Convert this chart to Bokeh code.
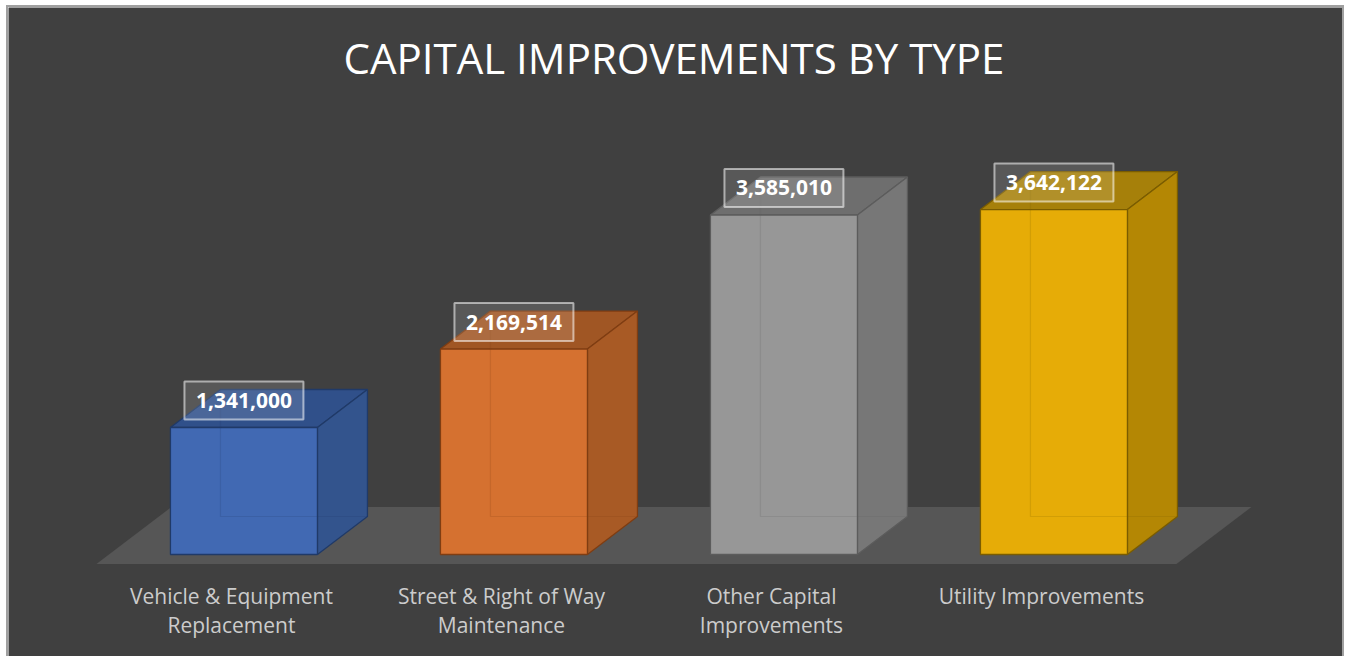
from bokeh.plotting import figure
from bokeh.models import Range1d
from bokeh.embed import file_html
from bokeh.resources import INLINE
from bokeh.core.properties import value

# ---------------- data ----------------
title_text = "CAPITAL IMPROVEMENTS BY TYPE"
categories = ["Vehicle & Equipment\nReplacement",
              "Street & Right of Way\nMaintenance",
              "Other Capital\nImprovements",
              "Utility Improvements"]
amounts = [1341000, 2169514, 3585010, 3642122]
amount_labels = ["1,341,000", "2,169,514", "3,585,010", "3,642,122"]

front_colors = ["#4169b3", "#d57130", "#979797", "#e6ac07"]
side_colors = ["#33548d", "#a85a25", "#777777", "#b48704"]
top_colors = ["#30508a", "#a05624", "#6e6e6e", "#a6800a"]
edge_colors = ["#203a68", "#7f3d12", "#5c5c5c", "#7a5c00"]

# ---------------- layout ----------------
FIG_LEFT, FIG_TOP = 8, 7        # page position of the figure
W, H = 1334, 649
PX_PER_CAT = 270.0
PX_PER_UNIT = 94.7e-6           # pixels per unit of value
BASE_PX = 554 - FIG_TOP         # y of zero value, relative to figure top
X0 = -0.872 - (FIG_LEFT - 8) / PX_PER_CAT

DX = 50 / PX_PER_CAT            # depth offset (x, category units)
DY = 38 / PX_PER_UNIT           # depth offset (y, value units)
HW = 147 / PX_PER_CAT / 2       # half bar width

y_start = -(H - BASE_PX) / PX_PER_UNIT
y_end = BASE_PX / PX_PER_UNIT

p = figure(width=W, height=H,
           x_range=Range1d(X0, X0 + W / PX_PER_CAT),
           y_range=Range1d(y_start, y_end),
           x_axis_type=None, y_axis_type=None,
           toolbar_location=None, output_backend="svg",
           min_border=0,
           background_fill_color="#404040", border_fill_color="#404040")
p.outline_line_color = None
p.grid.visible = False
p.styles = {"margin-left": f"{FIG_LEFT}px", "margin-top": f"{FIG_TOP}px",
            "box-shadow": "0 0 0 2px #a0a0a0"}

# title (centered over the chart)
p.text(x=[X0 + (673.5 - FIG_LEFT) / PX_PER_CAT], y=[(554 - 57) / PX_PER_UNIT],
       text=[title_text], text_align="center", text_baseline="middle",
       text_font=value("Open Sans"), text_font_size="42px",
       text_color="#ffffff")


def proj(x, v, z):
    return x + z * DX, v + z * DY


def poly(pts):
    xs, ys = [], []
    for (x, v, z) in pts:
        a, b = proj(x, v, z)
        xs.append(a)
        ys.append(b)
    return xs, ys


# floor
n = len(categories)
fx, fy = poly([(-0.5, 0, -0.25), (n - 0.5, 0, -0.25),
               (n - 0.5, 0, 1.25), (-0.5, 0, 1.25)])
p.patch(fx, fy, fill_color="#565656", line_color=None)

# bars
fr_x, fr_y, sd_x, sd_y, tp_x, tp_y = [], [], [], [], [], []
hid_x, hid_y = [], []
for i, v in enumerate(amounts):
    l, r = i - HW, i + HW
    a, b = poly([(l, 0, 0), (r, 0, 0), (r, v, 0), (l, v, 0)])
    fr_x.append(a); fr_y.append(b)
    a, b = poly([(r, 0, 0), (r, 0, 1), (r, v, 1), (r, v, 0)])
    sd_x.append(a); sd_y.append(b)
    a, b = poly([(l, v, 0), (r, v, 0), (r, v, 1), (l, v, 1)])
    tp_x.append(a); tp_y.append(b)
    a, b = poly([(l, v, 1), (l, 0, 1), (r, 0, 1)])
    hid_x.append(a); hid_y.append(b)

p.patches(tp_x, tp_y, fill_color=top_colors, line_color=edge_colors, line_width=1.3)
p.patches(sd_x, sd_y, fill_color=side_colors, line_color=edge_colors, line_width=1.3)
p.patches(fr_x, fr_y, fill_color=front_colors, line_color=edge_colors, line_width=1.3)
p.multi_line(hid_x, hid_y, line_color=edge_colors, line_alpha=0.18, line_width=1.2)

# data labels
xs = list(range(n))
label_y = [v + 27 / PX_PER_UNIT for v in amounts]
p.rect(x=xs, y=label_y, width=119, height=38, width_units="screen",
       height_units="screen", fill_color="#ffffff", fill_alpha=0.13,
       line_color="#ffffff", line_alpha=0.55, line_width=2)
p.text(x=xs, y=label_y, text=amount_labels, text_align="center",
       text_baseline="middle", text_font=value("Open Sans"),
       text_font_style="bold", text_font_size="21px", text_color="#ffffff")

# category labels
line1 = [c.split("\n")[0] for c in categories]
line2 = [c.split("\n")[1] if "\n" in c else "" for c in categories]
lx = [i - 0.25 * DX for i in xs]
p.text(x=lx, y=[-41 / PX_PER_UNIT] * n, text=line1, text_align="center",
       text_baseline="middle", text_font=value("Open Sans"),
       text_font_size="21px", text_color="#cccccc")
p.text(x=lx, y=[-70 / PX_PER_UNIT] * n, text=line2, text_align="center",
       text_baseline="middle", text_font=value("Open Sans"),
       text_font_size="21px", text_color="#cccccc")

open("out.html", "w").write(file_html(p, INLINE))
